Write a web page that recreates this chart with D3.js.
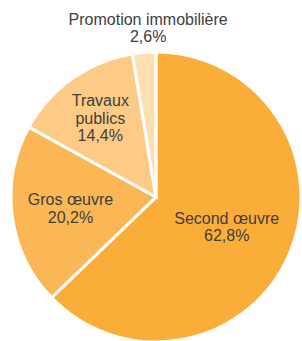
<!DOCTYPE html>
<html>
<head>
<meta charset="utf-8">
<script src="https://cdn.jsdelivr.net/npm/d3@7"></script>
<style>
  body { margin: 0; background: #fff; }
  svg { display: block; }
</style>
</head>
<body>
<div id="chart"></div>
<script>
// data
var categories = ["Second œuvre", "Gros œuvre", "Travaux publics", "Promotion immobilière"];
var values = [62.8, 20.2, 14.4, 2.6];
var labelLines = [["Second œuvre"], ["Gros œuvre"], ["Travaux", "publics"], ["Promotion immobilière"]];
var colorsList = ["#fbad3a", "#fbb655", "#fdcb86", "#fedfb2"];

var width = 302, height = 341;
var cx = 156, cy = 197, radius = 145;
// where each label sits, as a share of the radius
var labelPos = [0.53, 0.595, 0.665, 1.17];
var labelNudge = [0, 0, 0, 6]; // small x shift, px

var svg = d3.select("#chart")
    .append("svg")
    .attr("width", width)
    .attr("height", height);

var g = svg.append("g")
    .attr("transform", "translate(" + cx + "," + cy + ")");

var color = d3.scaleOrdinal()
    .domain(categories)
    .range(colorsList);

var pie = d3.pie()
    .sort(null)
    .value(d => d.value);

var data = categories.map(function (c, i) {
    return {name: c, value: values[i], lines: labelLines[i], pos: labelPos[i], nudge: labelNudge[i]};
});

var arc = d3.arc()
    .innerRadius(0)
    .outerRadius(radius);

var arcs = pie(data);

g.selectAll(".slice")
    .data(arcs)
    .enter()
    .append("path")
    .attr("class", "slice")
    .attr("d", arc)
    .style("fill", d => color(d.data.name))
    .style("stroke", "#fff")
    .style("stroke-width", 3)
    .style("stroke-linejoin", "miter");

var fmt = v => v.toFixed(1).replace(".", ",") + "%";
var lineH = 17.5;

var labels = g.selectAll(".label")
    .data(arcs)
    .enter()
    .append("text")
    .attr("class", "label")
    .attr("text-anchor", "middle")
    .style("font-family", "Liberation Sans, Arial, sans-serif")
    .style("font-size", "16px")
    .style("fill", "#404040")
    .attr("transform", function (d) {
        var r = radius * d.data.pos;
        var a = (d.startAngle + d.endAngle) / 2;
        return "translate(" + (Math.sin(a) * r + d.data.nudge) + "," + (-Math.cos(a) * r) + ")";
    });

labels.each(function (d) {
    var lines = d.data.lines.concat([fmt(d.data.value)]);
    var t = d3.select(this);
    var y0 = -(lines.length - 1) * lineH / 2;
    lines.forEach(function (l, i) {
        t.append("tspan")
            .attr("x", 0)
            .attr("y", y0 + i * lineH)
            .attr("dy", "0.35em")
            .text(l);
    });
});
</script>
</body>
</html>
